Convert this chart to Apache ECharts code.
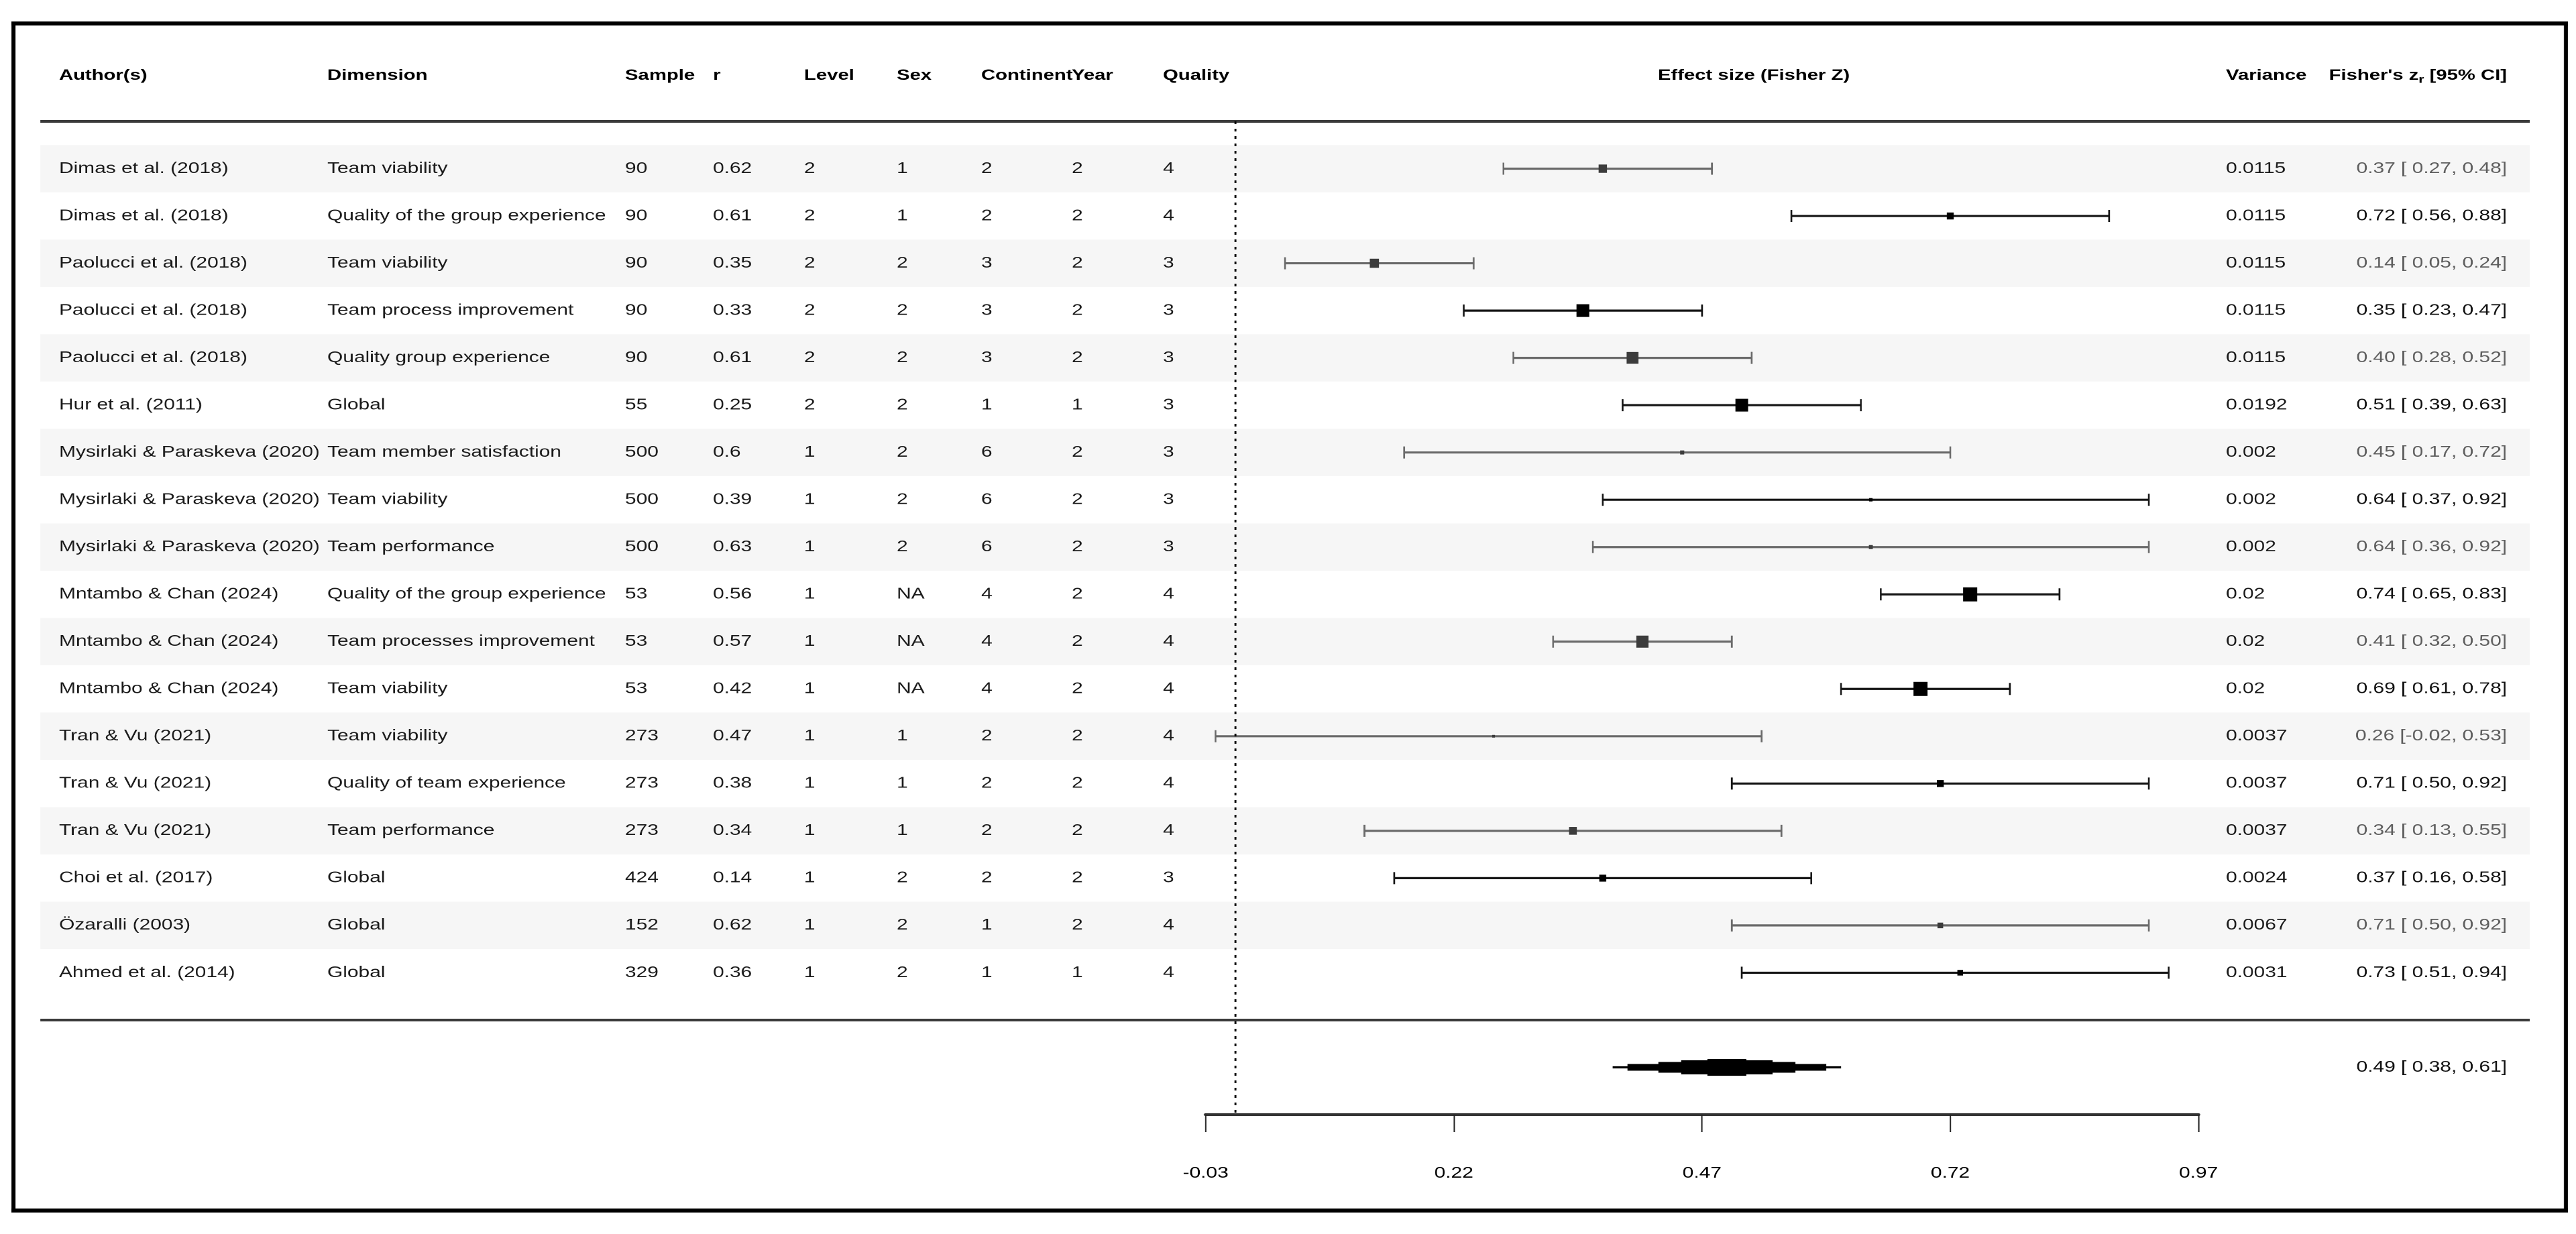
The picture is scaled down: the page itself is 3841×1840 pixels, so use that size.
<!DOCTYPE html>
<html>
<head>
<meta charset="utf-8">
<script src="https://cdn.jsdelivr.net/npm/echarts@6/dist/echarts.min.js"></script>
<style>
html,body{margin:0;padding:0;background:#fff;overflow:hidden;width:3841px;height:1840px}
#wrap{width:3841px;height:1840px;overflow:hidden;position:relative;background:#fff}
#chart{position:absolute;left:0;top:0;height:1840px;transform-origin:0 0}
</style>
</head>
<body>
<div id="wrap"><div id="chart"></div></div>
<script>
// ---------------- DATA ----------------
const columnHeaders = ['Author(s)', 'Dimension', 'Sample', 'r', 'Level', 'Sex', 'Continent', 'Year', 'Quality'];
const plotHeader = 'Effect size (Fisher Z)';
const varianceHeader = 'Variance';

const authors = [
  'Dimas et al. (2018)', 'Dimas et al. (2018)', 'Paolucci et al. (2018)', 'Paolucci et al. (2018)',
  'Paolucci et al. (2018)', 'Hur et al. (2011)', 'Mysirlaki & Paraskeva (2020)', 'Mysirlaki & Paraskeva (2020)',
  'Mysirlaki & Paraskeva (2020)', 'Mntambo & Chan (2024)', 'Mntambo & Chan (2024)', 'Mntambo & Chan (2024)',
  'Tran & Vu (2021)', 'Tran & Vu (2021)', 'Tran & Vu (2021)', 'Choi et al. (2017)', 'Özaralli (2003)', 'Ahmed et al. (2014)'
];
const dimensions = [
  'Team viability', 'Quality of the group experience', 'Team viability', 'Team process improvement',
  'Quality group experience', 'Global', 'Team member satisfaction', 'Team viability',
  'Team performance', 'Quality of the group experience', 'Team processes improvement', 'Team viability',
  'Team viability', 'Quality of team experience', 'Team performance', 'Global', 'Global', 'Global'
];
const samples = [90, 90, 90, 90, 90, 55, 500, 500, 500, 53, 53, 53, 273, 273, 273, 424, 152, 329];
const rValues = ['0.62', '0.61', '0.35', '0.33', '0.61', '0.25', '0.6', '0.39', '0.63', '0.56', '0.57', '0.42', '0.47', '0.38', '0.34', '0.14', '0.62', '0.36'];
const levels = [2, 2, 2, 2, 2, 2, 1, 1, 1, 1, 1, 1, 1, 1, 1, 1, 1, 1];
const sexes = ['1', '1', '2', '2', '2', '2', '2', '2', '2', 'NA', 'NA', 'NA', '1', '1', '1', '2', '2', '2'];
const continents = [2, 2, 3, 3, 3, 1, 6, 6, 6, 4, 4, 4, 2, 2, 2, 2, 1, 1];
const years = [2, 2, 2, 2, 2, 1, 2, 2, 2, 2, 2, 2, 2, 2, 2, 2, 2, 1];
const qualities = [4, 4, 3, 3, 3, 3, 3, 3, 3, 4, 4, 4, 4, 4, 4, 3, 4, 4];
const variances = ['0.0115', '0.0115', '0.0115', '0.0115', '0.0115', '0.0192', '0.002', '0.002', '0.002', '0.02', '0.02', '0.02', '0.0037', '0.0037', '0.0037', '0.0024', '0.0067', '0.0031'];
const effects = [0.37, 0.72, 0.14, 0.35, 0.40, 0.51, 0.45, 0.64, 0.64, 0.74, 0.41, 0.69, 0.26, 0.71, 0.34, 0.37, 0.71, 0.73];
const ciLower = [0.27, 0.56, 0.05, 0.23, 0.28, 0.39, 0.17, 0.37, 0.36, 0.65, 0.32, 0.61, -0.02, 0.50, 0.13, 0.16, 0.50, 0.51];
const ciUpper = [0.48, 0.88, 0.24, 0.47, 0.52, 0.63, 0.72, 0.92, 0.92, 0.83, 0.50, 0.78, 0.53, 0.92, 0.55, 0.58, 0.92, 0.94];
// relative study weights
const weights = [6.2, 5.2, 6.8, 9.5, 8.8, 9.5, 3.0, 2.5, 3.0, 10.5, 9.0, 10.5, 2.0, 5.2, 5.8, 5.2, 4.2, 4.2];
const pooledEffect = 0.49;
const pooledLower = 0.38;
const pooledUpper = 0.61;
const tickMin = -0.03;
const tickMax = 0.97;
const tickStep = 0.25;

// ---------------- LAYOUT ----------------
const S = 1.3;                 // horizontal stretch of the original figure
const W = 3841, H = 1840;
const LW = W / S;
const fx = X => X / S;
const FONT = '"Liberation Sans", Arial, Helvetica, sans-serif';
const FS = 23;
const HFS = 22.5;
const PLOT_L = 1797.6, PLOT_R = 3277.6;
const TOP = 181, BOT = 1662, NV = 21;
const rowY = v => TOP + (BOT - TOP) * v / NV;
const COLX = [88, 488, 932, 1063, 1199, 1337, 1463, 1598, 1734];
const HEAD_Y = 113;
const VAR_X = 3319;
const CI_RX = 3738;
const LINE_L = 60, LINE_R = 3772;
// stepped summary polygon profile: [fraction of width, half-height px]
const DIAMOND_STEPS = [[1.0, 1.6], [0.87, 5], [0.6, 8], [0.4, 10.5], [0.17, 12.5]];

const el = document.getElementById('chart');
el.style.width = LW + 'px';
el.style.transform = 'scaleX(' + S + ')';
const chart = echarts.init(el, null, { renderer: 'canvas', devicePixelRatio: 2 });

const fmtLo = v => (v < 0 ? '' : ' ') + v.toFixed(2);
const ciText = (e, lo, hi) => e.toFixed(2) + ' [' + fmtLo(lo) + ', ' + hi.toFixed(2) + ']';

const graphic = [];
// header texts
columnHeaders.forEach((h, i) => {
  graphic.push({ type: 'text', x: fx(COLX[i]), y: HEAD_Y, silent: true,
    style: { text: h, fontFamily: FONT, fontSize: HFS, fontWeight: 'bold', fill: '#000', align: 'left', verticalAlign: 'middle' } });
});
graphic.push({ type: 'text', x: fx(2472), y: HEAD_Y, silent: true,
  style: { text: plotHeader, fontFamily: FONT, fontSize: HFS, fontWeight: 'bold', fill: '#000', align: 'left', verticalAlign: 'middle' } });
graphic.push({ type: 'text', x: fx(VAR_X), y: HEAD_Y, silent: true,
  style: { text: varianceHeader, fontFamily: FONT, fontSize: HFS, fontWeight: 'bold', fill: '#000', align: 'left', verticalAlign: 'middle' } });
graphic.push({ type: 'text', x: fx(CI_RX), y: HEAD_Y, silent: true,
  style: { text: "{b|Fisher's z}{s|r}{b| [95% CI]}", align: 'right', verticalAlign: 'middle',
    rich: {
      b: { fontFamily: FONT, fontSize: HFS, fontWeight: 'bold', fill: '#000' },
      s: { fontFamily: FONT, fontSize: 16, fontWeight: 'bold', fill: '#000', padding: [12, 0, 0, 0] }
    } } });
// header and summary separator lines
[TOP, rowY(19)].forEach(y => {
  graphic.push({ type: 'line', silent: true, shape: { x1: fx(LINE_L), y1: y, x2: fx(LINE_R), y2: y },
    style: { stroke: '#3a3a3a', lineWidth: 4 } });
});
// outer frame
const FR = { l: 17, r: 3829, t: 32, b: 1808, w: 6 };
graphic.push({ type: 'rect', silent: true, shape: { x: fx(FR.l), y: FR.t, width: fx(FR.r) - fx(FR.l), height: FR.w }, style: { fill: '#000' } });
graphic.push({ type: 'rect', silent: true, shape: { x: fx(FR.l), y: FR.b - FR.w, width: fx(FR.r) - fx(FR.l), height: FR.w }, style: { fill: '#000' } });
graphic.push({ type: 'rect', silent: true, shape: { x: fx(FR.l), y: FR.t, width: fx(FR.w), height: FR.b - FR.t }, style: { fill: '#000' } });
graphic.push({ type: 'rect', silent: true, shape: { x: fx(FR.r - FR.w), y: FR.t, width: fx(FR.w), height: FR.b - FR.t }, style: { fill: '#000' } });

const rowData = authors.map((a, i) => [0, i + 1, i]);
const ciData = effects.map((e, i) => [ciLower[i], ciUpper[i], e, i + 1, weights[i], i]);

const option = {
  backgroundColor: '#fff',
  animation: false,
  grid: { left: fx(PLOT_L), right: LW - fx(PLOT_R), top: TOP, bottom: H - BOT, containLabel: false },
  xAxis: {
    type: 'value', min: tickMin, max: tickMax, interval: tickStep,
    axisLine: { show: true, onZero: false, lineStyle: { color: '#333', width: 4 } },
    axisTick: { show: true, length: 26, lineStyle: { color: '#222', width: 2 / S } },
    axisLabel: { show: true, margin: 76, fontFamily: FONT, fontSize: FS, color: '#000',
      showMinLabel: true, showMaxLabel: true, formatter: v => v.toFixed(2) },
    splitLine: { show: false }
  },
  yAxis: { type: 'value', min: 0, max: NV, inverse: true, show: false },
  graphic: graphic,
  series: [
    {
      type: 'custom', name: 'table', coordinateSystem: 'cartesian2d', clip: false, silent: true, z: 1,
      data: rowData,
      renderItem: (params, api) => {
        const idx = api.value(2);
        const v = api.value(1);
        const y = api.coord([0, v])[1];
        const half = api.size([0, 1])[1] / 2;
        const children = [];
        if (idx % 2 === 0) {
          children.push({ type: 'rect', shape: { x: fx(LINE_L), y: y - half, width: fx(LINE_R) - fx(LINE_L), height: half * 2 },
            style: { fill: '#f6f6f6' } });
        }
        const cells = [authors[idx], dimensions[idx], samples[idx], rValues[idx], levels[idx], sexes[idx], continents[idx], years[idx], qualities[idx]];
        cells.forEach((t, c) => {
          children.push({ type: 'text', x: fx(COLX[c]), y: y,
            style: { text: String(t), fontFamily: FONT, fontSize: FS, fill: '#1a1a1a', align: 'left', verticalAlign: 'middle' } });
        });
        children.push({ type: 'text', x: fx(VAR_X), y: y,
          style: { text: variances[idx], fontFamily: FONT, fontSize: FS, fill: '#1a1a1a', align: 'left', verticalAlign: 'middle' } });
        children.push({ type: 'text', x: fx(CI_RX), y: y,
          style: { text: ciText(effects[idx], ciLower[idx], ciUpper[idx]), fontFamily: FONT, fontSize: FS,
            fill: idx % 2 === 0 ? '#5e5e5e' : '#111', align: 'right', verticalAlign: 'middle' } });
        return { type: 'group', children };
      }
    },
    {
      type: 'custom', name: 'studies', coordinateSystem: 'cartesian2d', clip: false, silent: true, z: 3,
      data: ciData,
      renderItem: (params, api) => {
        const v = api.value(3);
        const lo = api.coord([api.value(0), v]);
        const hi = api.coord([api.value(1), v]);
        const mid = api.coord([api.value(2), v]);
        const idx = api.value(5);
        const light = idx % 2 === 0;
        const lineC = light ? '#6a6a6a' : '#151515';
        const boxC = light ? '#3c3c3c' : '#000';
        const s = api.value(4) * 2;
        const cap = 9;
        const y = lo[1];
        return { type: 'group', children: [
          { type: 'line', shape: { x1: lo[0], y1: y, x2: hi[0], y2: y }, style: { stroke: lineC, lineWidth: 3.2 } },
          { type: 'line', shape: { x1: lo[0], y1: y - cap, x2: lo[0], y2: y + cap }, style: { stroke: lineC, lineWidth: 2.6 / S } },
          { type: 'line', shape: { x1: hi[0], y1: y - cap, x2: hi[0], y2: y + cap }, style: { stroke: lineC, lineWidth: 2.6 / S } },
          { type: 'rect', shape: { x: mid[0] - s / 2 / S, y: y - s / 2, width: s / S, height: s }, style: { fill: boxC } }
        ] };
      },
      markLine: {
        silent: true, symbol: 'none', animation: false,
        label: { show: false },
        lineStyle: { color: '#000', width: 3 / S, type: [4, 7] },
        data: [{ xAxis: 0 }]
      }
    },
    {
      type: 'custom', name: 'pooled', coordinateSystem: 'cartesian2d', clip: false, silent: true, z: 3,
      data: [[pooledLower, pooledUpper, pooledEffect, 20]],
      renderItem: (params, api) => {
        const v = api.value(3);
        const lo = api.coord([api.value(0), v]);
        const hi = api.coord([api.value(1), v]);
        const mid = api.coord([api.value(2), v]);
        const cx = (lo[0] + hi[0]) / 2;
        const hw = (hi[0] - lo[0]) / 2;
        const children = DIAMOND_STEPS.map(([f, hh]) => ({
          type: 'rect', shape: { x: cx - hw * f, y: mid[1] - hh, width: 2 * hw * f, height: 2 * hh },
          style: { fill: '#000' }
        }));
        children.push({ type: 'text', x: fx(CI_RX), y: mid[1],
          style: { text: ciText(api.value(2), api.value(0), api.value(1)), fontFamily: FONT, fontSize: FS,
            fill: '#111', align: 'right', verticalAlign: 'middle' } });
        return { type: 'group', children };
      }
    }
  ]
};
chart.setOption(option);
</script>
</body>
</html>
